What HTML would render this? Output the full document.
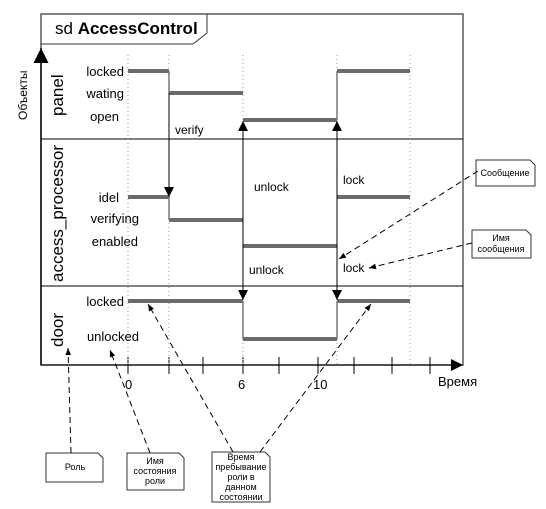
<!DOCTYPE html>
<html><head><meta charset="utf-8"><style>
body{margin:0;background:#fff;}
svg{display:block;font-family:"Liberation Sans",sans-serif;}
</style></head><body>
<svg width="546" height="509" viewBox="0 0 546 509" xmlns="http://www.w3.org/2000/svg">
<defs>
<marker id="a" viewBox="0 0 10 10" refX="10" refY="5" markerWidth="10" markerHeight="10" orient="auto-start-reverse"><path d="M0,0 L10,5 L0,10z" fill="#000"/></marker>
<marker id="s" viewBox="0 0 10 10" refX="10" refY="5" markerWidth="7" markerHeight="7" orient="auto"><path d="M0,1 L10,5 L0,9z" fill="#000"/></marker>
</defs>
<rect x="41" y="14" width="422" height="351" fill="none" stroke="#333" stroke-width="1.2"/>
<path d="M41,44 L193,44 L207,33 L207,14" fill="none" stroke="#333"/>
<text x="55" y="34" font-size="17">sd <tspan font-weight="bold">AccessControl</tspan></text>
<line x1="41" y1="139" x2="463" y2="139" stroke="#000"/>
<line x1="41" y1="286" x2="463" y2="286" stroke="#000"/>
<line x1="41" y1="365" x2="41" y2="48" stroke="#000" stroke-width="1.5" marker-end="url(#a)"/>
<line x1="41" y1="365" x2="463" y2="365" stroke="#000" stroke-width="1.2" marker-end="url(#a)"/>
<g stroke="#000">
<line x1="128" y1="357" x2="128" y2="374"/><line x1="169" y1="357" x2="169" y2="374"/><line x1="203" y1="357" x2="203" y2="374"/><line x1="243" y1="357" x2="243" y2="374"/><line x1="279" y1="357" x2="279" y2="374"/><line x1="318" y1="357" x2="318" y2="374"/><line x1="354" y1="357" x2="354" y2="374"/><line x1="392" y1="357" x2="392" y2="374"/><line x1="430" y1="357" x2="430" y2="374"/>
</g>
<g font-size="13"><text x="125" y="389">0</text><text x="238" y="389">6</text><text x="313" y="389">10</text><text x="438" y="386">Время</text></g>
<text transform="translate(27,120) rotate(-90)" font-size="12">Объекты</text>
<g stroke="#999" stroke-dasharray="1,3">
<line x1="128" y1="55" x2="128" y2="365"/><line x1="169" y1="55" x2="169" y2="365"/><line x1="243" y1="55" x2="243" y2="365"/><line x1="337" y1="55" x2="337" y2="365"/><line x1="410" y1="55" x2="410" y2="365"/>
</g>
<g font-size="17">
<text transform="translate(63,116) rotate(-90)">panel</text>
<text transform="translate(63,282) rotate(-90)">access_processor</text>
<text transform="translate(63,347) rotate(-90)">door</text>
</g>
<g font-size="13" text-anchor="end">
<text x="124" y="76">locked</text><text x="124" y="98">wating</text><text x="119" y="121">open</text>
<text x="119" y="202">idel</text><text x="139" y="223">verifying</text><text x="138" y="246">enabled</text>
<text x="124" y="306">locked</text><text x="139" y="341">unlocked</text>
</g>
<g stroke="#6b6b6b" stroke-width="4">
<line x1="128" y1="71" x2="169" y2="71"/><line x1="169" y1="93" x2="243" y2="93"/><line x1="243" y1="120" x2="337" y2="120"/><line x1="337" y1="71" x2="410" y2="71"/>
<line x1="128" y1="197" x2="169" y2="197"/><line x1="169" y1="220" x2="243" y2="220"/><line x1="243" y1="246" x2="337" y2="246"/><line x1="337" y1="197" x2="410" y2="197"/>
<line x1="128" y1="301" x2="243" y2="301"/><line x1="243" y1="339" x2="337" y2="339"/><line x1="337" y1="301" x2="410" y2="301"/>
</g>
<g stroke="#777" stroke-width="1.5">
<line x1="169" y1="71" x2="169" y2="93"/><line x1="169" y1="197" x2="169" y2="220"/><line x1="243" y1="301" x2="243" y2="339"/><line x1="337" y1="301" x2="337" y2="339"/><line x1="337" y1="71" x2="337" y2="120"/>
</g>
<g stroke="#000" stroke-width="1">
<line x1="169" y1="93" x2="169" y2="197" marker-end="url(#a)"/>
<line x1="243" y1="220" x2="243" y2="121" marker-end="url(#a)"/>
<line x1="243" y1="220" x2="243" y2="300" marker-end="url(#a)"/>
<line x1="337" y1="197" x2="337" y2="121" marker-end="url(#a)"/>
<line x1="337" y1="197" x2="337" y2="300" marker-end="url(#a)"/>
</g>
<g font-size="12"><text x="175" y="134">verify</text><text x="254" y="191">unlock</text><text x="249" y="274">unlock</text><text x="343" y="184">lock</text><text x="343" y="272">lock</text></g>
<g fill="#fff" stroke="#333">
<path d="M476,160 L530,160 L535,165 L535,186 L476,186z"/>
<path d="M472,230 L526,230 L531,235 L531,258 L472,258z"/>
<path d="M46,453 L98,453 L103,458 L103,482 L46,482z"/>
<path d="M127,453 L179,453 L184,458 L184,490 L127,490z"/>
<path d="M212,452 L265,452 L270,457 L270,502 L212,502z"/>
</g>
<g font-size="9" text-anchor="middle">
<text x="505" y="176">Сообщение</text>
<text x="501" y="241">Имя</text><text x="501" y="252">сообщения</text>
<text x="75" y="470">Роль</text>
<text x="155" y="464">Имя</text><text x="155" y="474">состояния</text><text x="155" y="484">роли</text>
<text x="241" y="460">Время</text><text x="241" y="470">пребывание</text><text x="241" y="480">роли в</text><text x="241" y="490">данном</text><text x="241" y="500">состоянии</text>
</g>
<g stroke="#000" stroke-dasharray="6,4" fill="none">
<line x1="478" y1="171" x2="339" y2="259" marker-end="url(#s)"/>
<line x1="472" y1="243" x2="369" y2="268" marker-end="url(#s)"/>
<line x1="71" y1="453" x2="68" y2="348" marker-end="url(#s)"/>
<line x1="150" y1="453" x2="110" y2="350" marker-end="url(#s)"/>
<line x1="233" y1="452" x2="148" y2="304" marker-end="url(#s)"/>
<line x1="260" y1="452" x2="371" y2="304" marker-end="url(#s)"/>
</g>
</svg>
</body></html>
